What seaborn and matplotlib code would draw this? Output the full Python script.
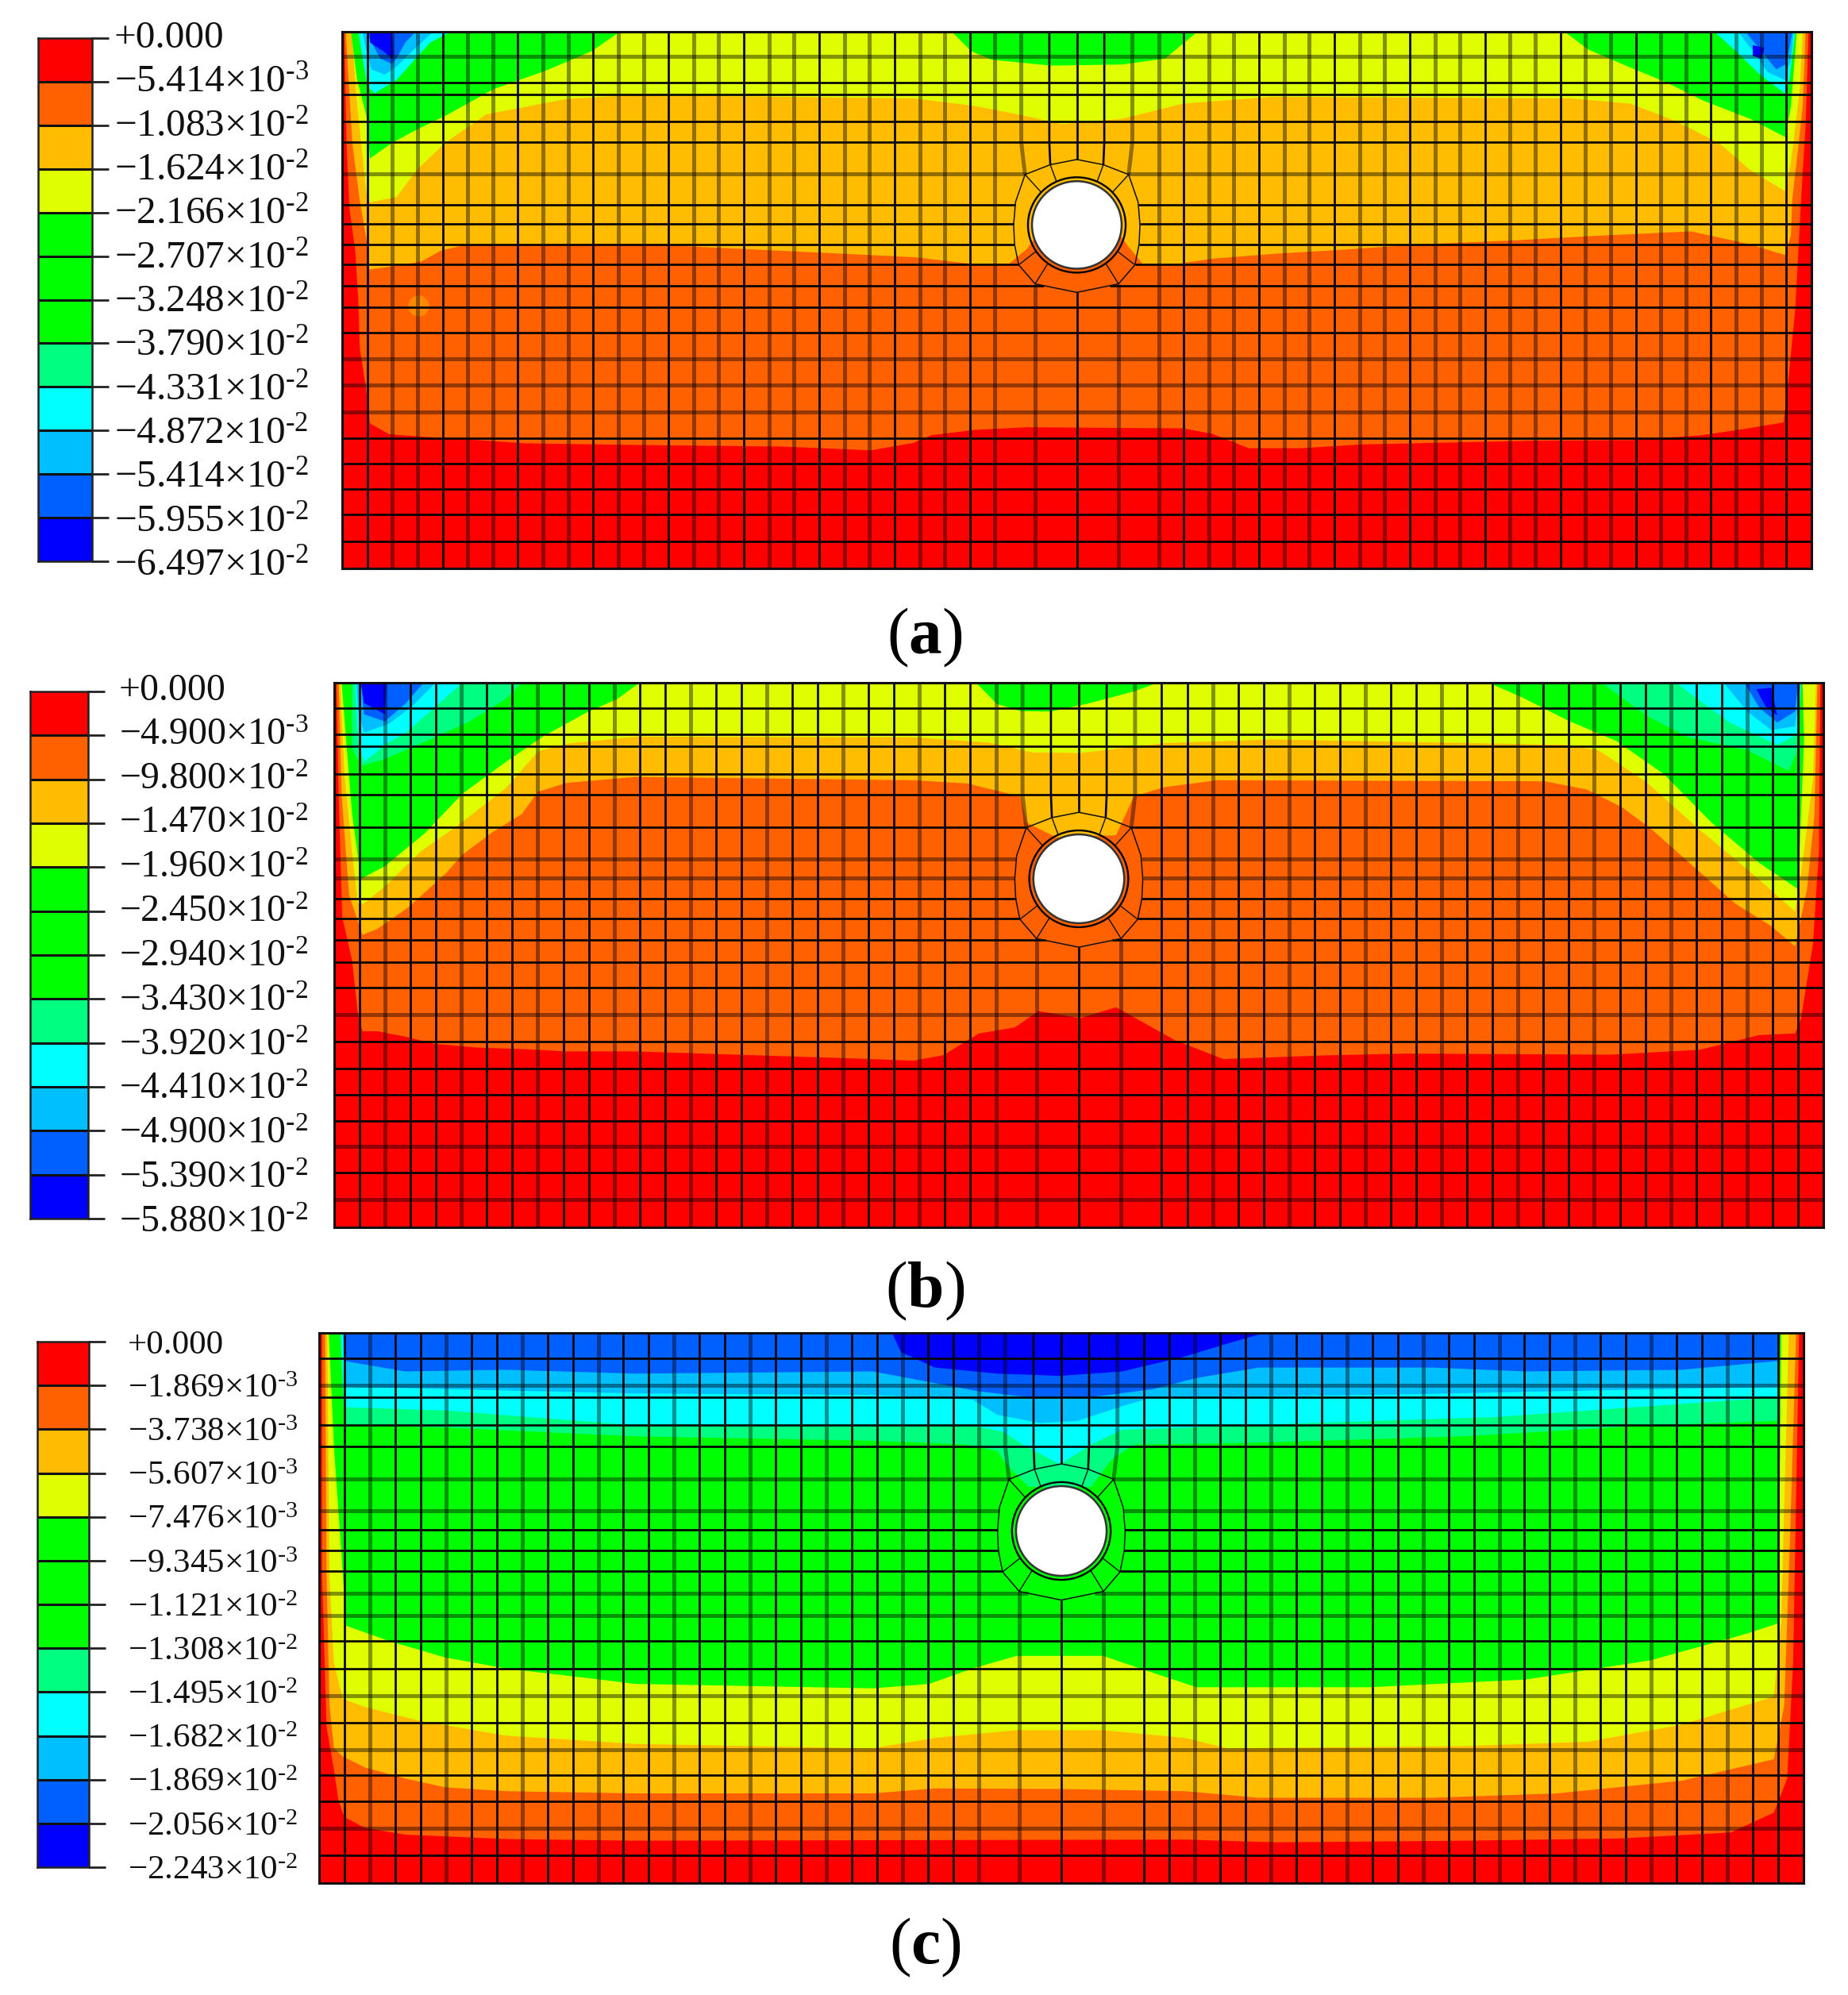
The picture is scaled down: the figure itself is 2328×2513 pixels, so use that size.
#!/usr/bin/env python3
import matplotlib

matplotlib.use("Agg")
import matplotlib.pyplot as plt
import matplotlib.transforms as mtransforms
import numpy as np
import seaborn as sns
from matplotlib.colors import ListedColormap
from matplotlib.patches import Ellipse

W, H = 2328, 2513

# contour band colours, shallow to deep
RED, ORANGE, AMBER, YELLOW = "#FF0000", "#FF6000", "#FFBC00", "#DFFF00"
GREEN, SPRING, CYAN, SKY, BLUE1, BLUE = (
    "#00FF00", "#00FF80", "#00FFFF", "#00BFFF", "#0060FF", "#0000FF",
)
band_colors = [RED, ORANGE, AMBER, YELLOW, GREEN, GREEN, GREEN, SPRING, CYAN, SKY, BLUE1, BLUE]

labels_a = ["+0.000", "-5.414|3", "-1.083|2", "-1.624|2", "-2.166|2", "-2.707|2", "-3.248|2",
            "-3.790|2", "-4.331|2", "-4.872|2", "-5.414|2", "-5.955|2", "-6.497|2"]
labels_b = ["+0.000", "-4.900|3", "-9.800|2", "-1.470|2", "-1.960|2", "-2.450|2", "-2.940|2",
            "-3.430|2", "-3.920|2", "-4.410|2", "-4.900|2", "-5.390|2", "-5.880|2"]
labels_c = ["+0.000", "-1.869|3", "-3.738|3", "-5.607|3", "-7.476|3", "-9.345|3", "-1.121|2",
            "-1.308|2", "-1.495|2", "-1.682|2", "-1.869|2", "-2.056|2", "-2.243|2"]

# mesh rows, % of block depth
mesh_d = [0, 4.6, 9.5, 11.7, 16.7, 20.6, 26.5, 32.3, 35.8, 39.6, 43.3, 47.3, 51.3,
          56, 61, 65.9, 70.8, 75.7, 80.4, 85.2, 90, 94.9, 100]

# band boundaries as (x % of width, depth % of height)
a_orange = ([0.15, 0.3, 0.5, 0.9, 1.1, 1.2, 1.6, 1.9, 3.2, 5.6, 9.8, 12.5, 20, 30, 36, 38.9, 40.1, 43, 46.6,
             57.2, 59.2, 61.7, 65.3, 69.4, 81.2, 87.7, 92.5, 95.7, 98.1, 98.3, 98.9, 99.3, 99.6, 99.8],
            [0, 21, 33, 41, 50, 59, 66, 73, 75, 75.5, 76.2, 76.7, 77, 77.3, 78, 76.6, 75.2, 74.2, 73.7,
             73.9, 74.9, 77.6, 77.6, 76.9, 76.2, 76.1, 75.2, 73.9, 72.8, 68.4, 51.5, 31, 17.5, 0])
a_amber = ([0.25, 0.7, 1.2, 1.65, 1.85, 3.7, 5.4, 6.7, 8.4, 19.9, 38.9, 43, 45.4, 46.6, 47.5, 52.7, 53.5, 54.5, 56.8,
            59.2, 63.3, 68.2, 73.5, 79.6, 84.8, 91.8, 95.8, 98.2, 98.6, 98.7, 99, 99.4, 99.6],
           [0, 21, 31.5, 38.6, 44.3, 43.6, 42.8, 40.8, 39.7, 39.5, 42, 43.3, 43.2, 40.5, 37, 37, 40, 43.3, 43.3,
            42.3, 41.4, 40.6, 39.6, 38.9, 38.1, 37.2, 39.6, 41.6, 37.9, 31, 24, 14, 0])
a_yellow = ([0.6, 0.7, 0.96, 1.65, 1.9, 3.7, 5.1, 7, 9.8, 15.3, 19.9, 38.9, 43, 46.2, 49, 53.1, 57.2, 63.3,
             83.6, 87.7, 90.9, 93.8, 95.8, 98.2, 98.6, 99.2, 99.4],
            [0, 1.4, 12, 30, 31.8, 30.8, 25.7, 20.7, 15.4, 12.5, 11.8, 12.4, 13.8, 15.5, 17.2, 16.2, 13.4, 12.1,
             12.4, 13.4, 16.8, 20.9, 25.7, 29.7, 24.3, 10.7, 0])
a_green_left = ([0.6, 18.9, 17, 13.9, 10.3, 7, 5.1, 3.4, 1.9, 1.65, 1.0],
                [0, 0, 3.6, 7.2, 10.7, 15.7, 18.2, 20.7, 23.6, 15.7, 8.6])
a_green_mid = ([41.5, 42.8, 44.2, 48.2, 53.1, 56, 58.2], [0, 3.6, 5.2, 6.3, 6.1, 5, 0])
a_green_right = ([83.2, 84.8, 87.7, 90.1, 92.6, 95.8, 98.2, 98.6, 99],
                 [0, 3.3, 6.7, 9.4, 12.8, 16.2, 19.6, 14, 0])
a_cyan_left = ([1.1, 7.4, 6, 5, 3.7, 2.2, 1.7, 1.4], [0, 0, 2, 5, 9, 11.5, 10, 5])
a_cyan_right = ([93.4, 95, 96.5, 98.2, 98.5, 98.9], [0, 4, 8, 11.5, 9, 0])
a_sky_left = ([1.4, 6.2, 5, 3.7, 2.9, 2, 1.6], [0, 0, 3, 6.5, 8, 7, 3])
a_sky_right = ([95, 96, 97, 98.2, 98.6, 98.8], [0, 3.5, 7.5, 9, 5, 0])
a_blue1_left = ([1.6, 5, 4.3, 3.7, 3.4, 2.6, 1.8], [0, 0, 2, 5, 6, 5, 1])
a_blue1_right = ([95.5, 96.7, 97.6, 98.3, 98.7], [0, 4, 7, 6, 0])
a_blue_left = ([1.9, 3.4, 3.5, 3.4, 2.8, 1.9], [0, 0, 4, 5, 3.6, 2])
a_blue_right = ([96, 96.8, 96.6, 96], [2.5, 3, 5, 4.5])

b_orange = ([0.15, 0.3, 0.54, 1.2, 1.6, 1.9, 2.9, 4.8, 6.7, 9.6, 12.9, 15.6, 20.2, 35, 38.9, 40.9, 43.3, 45.7, 47.3,
             50.1, 52.5, 56.5, 59.7, 66.9, 72.1, 85.7, 91.7, 95.7, 98.1, 98.5, 99.3, 99.7, 99.8],
            [0, 20.7, 43, 51, 61, 64, 64, 65, 66.3, 67, 67.3, 67.7, 67.7, 69, 69.4, 68.4, 64.4, 63.3, 60.3,
             61.6, 59.6, 65.7, 69.1, 68.4, 68.1, 68.3, 67.4, 64.7, 64.4, 61.6, 48, 31, 0])
b_amber = ([0.3, 0.5, 1, 1.9, 2.9, 5, 7.5, 8.6, 10.6, 12.6, 13.7, 15.6, 20.2, 38.9, 42.5, 46.1, 46.5, 48.5, 52.5,
            53.7, 55.7, 59.3, 81.3, 84.1, 86.5, 88.5, 91.3, 94.1, 96.5, 98.1, 98.9, 99.4, 99.6],
           [0, 20.7, 39, 46.3, 45.2, 41.2, 35, 31.6, 27.5, 24.1, 20, 18.4, 17.3, 17.9, 18.5, 20.9, 25.7, 28.4, 28,
            20.9, 19.2, 17.9, 18.1, 19.6, 22.9, 27, 33.8, 40.6, 44.7, 48.4, 37.9, 24.3, 0])
b_yellow = ([0.4, 0.7, 1.2, 1.6, 2, 3.4, 5.8, 8.3, 11.5, 13.7, 15.6, 20.2, 38.9, 44, 46.9, 50.1, 55.7, 62.9,
             82.5, 84.9, 88.1, 91.7, 95.3, 98.1, 98.7, 99.3, 99.5],
            [0, 17, 31, 40.5, 40.5, 37.4, 31, 26.2, 19.4, 12.6, 11.2, 9.9, 10, 11, 12.8, 12.9, 11.1, 10.4,
             11.4, 12.4, 18.2, 27, 35.2, 42, 31, 17.5, 0])
b_green_left = ([0.5, 20.5, 19, 17, 14, 11.5, 8.6, 6.1, 3.4, 1.8, 1.2, 0.8],
                [0, 0, 3, 5.4, 9.9, 14.6, 20.4, 27.6, 33.7, 36, 24, 10.5])
b_green_mid = ([43.1, 44.5, 46.1, 48.1, 50.5, 53.7, 55.3], [0, 3.9, 5.2, 5.3, 3.9, 1.6, 0])
b_green_right = ([77.5, 79.7, 82.9, 86.1, 89.3, 92.5, 95.7, 98.3, 98.5, 98.7, 98.6],
                 [0, 2.6, 7, 10.7, 16.8, 25.7, 33.1, 37.9, 24.3, 10.7, 0])
b_spring_left = ([1.2, 12.6, 11.5, 9.1, 6.4, 3.4, 1.8, 1.2], [0, 0, 3, 7.1, 10.5, 14, 15.3, 11.9])
b_spring_right = ([85.1, 88.1, 90.9, 94.9, 97.7, 98.3, 98.5], [0, 6, 10, 12.4, 16.2, 12, 0])
b_cyan_left = ([1.4, 8.6, 6.8, 4.8, 3.5, 2, 1.6], [0, 0, 4.4, 9.2, 11.2, 14.6, 10.5])
b_cyan_right = ([90.1, 91.7, 93.7, 96.9, 98.3, 98.5], [0, 3.3, 7.3, 11.4, 9.4, 0])
b_sky_left = ([1.5, 6.8, 5.2, 3.7, 2, 1.6], [0, 0, 4.4, 7.5, 9.2, 5])
b_sky_right = ([93.3, 94.9, 96.5, 98.1, 98.5], [0, 5.3, 8.7, 8, 0])
b_blue1_left = ([1.8, 6, 4.8, 3.4, 2], [0, 0, 3.8, 7.1, 5.8])
b_blue1_right = ([94.7, 95.7, 96.9, 98.1, 98.3], [0, 4.6, 7.3, 5.3, 0])
b_blue_left = ([1.8, 3.5, 3.4, 2], [0, 0, 5.8, 3.7])
b_blue_right = ([95.5, 96.5, 96.9, 96.1], [1.2, 0.9, 6, 4.3])

c_orange = ([0.2, 0.2, 0.5, 1, 1.3, 1.7, 3.1, 5.8, 12.6, 21.3, 58.3, 64.5, 77.1, 87.6, 95.1, 98, 98.9, 99.3, 99.7],
            [0, 44, 71.6, 79.4, 85, 88, 90, 91.2, 92, 92.3, 92.1, 92.6, 92.3, 91.9, 90.8, 87.2, 81, 59.9, 0])
c_amber = ([0.4, 0.5, 0.7, 1, 1.6, 3.1, 5.8, 8.5, 12.6, 21.3, 37.3, 41.5, 49.9, 58.3, 63.3, 75, 83.4, 91.8, 98,
            98.7, 99.1, 99.5],
           [0, 44, 67.7, 75.5, 77, 79, 81, 82.6, 83.3, 83.7, 83.7, 82.8, 82.9, 83.3, 84.5, 84.5, 83.7, 81.4, 77.5,
            67.7, 36.4, 0])
c_yellow = ([0.55, 0.7, 1, 1.6, 3.1, 6.6, 12.6, 21.3, 37.3, 41.5, 47, 52.8, 58.3, 61.2, 77.1, 85.5, 91.8, 98,
             98.5, 99],
            [0, 44, 60, 66.5, 68, 70.4, 73.2, 74.7, 75.5, 73.6, 72.2, 72.2, 73.6, 75.5, 75.1, 74.3, 71.2, 66.1,
             52, 0])
c_green = ([0.65, 1, 1.6, 1.8, 4.7, 8.5, 12.6, 18.9, 21.3, 37.3, 41.1, 44, 47, 52.8, 56.2, 59.1, 70.8, 81.3, 89.7,
            96, 98.3, 98.5],
           [0, 20.7, 44, 53.2, 56, 59, 61, 63, 63.8, 64.6, 63.8, 61, 58.7, 58.7, 61.8, 64.4, 64.4, 63, 59.5,
            54.8, 52.8, 0])
c_spring = ([1.4, 1.7, 8.5, 21.3, 37.3, 43.6, 45.7, 46.3, 47.8, 52, 53.4, 54.9, 62.5, 77.1, 89.7, 98.3, 98.4],
            [0, 16.8, 17.2, 18.8, 19.6, 20.3, 21.5, 23.9, 28, 28, 23, 20.3, 20, 18.8, 16.8, 16, 0])
c_cyan = ([1.5, 1.7, 8.5, 21.3, 37.3, 44, 46.1, 47.4, 49.9, 52, 54.1, 66.6, 79.2, 91.8, 98.3, 98.4],
          [0, 13.5, 14.1, 16.8, 17, 16.8, 18, 20.3, 23.9, 20.3, 17.6, 16.4, 15.3, 12.9, 11.7, 0])
c_sky = ([1.6, 1.7, 21.3, 37.3, 44, 45.7, 48.6, 51.1, 54.1, 56.2, 70.8, 83.4, 98.3, 98.4],
         [0, 9.8, 11, 11.3, 12.1, 14.9, 16.4, 16, 13.3, 11.7, 11.3, 10.6, 9.8, 0])
c_blue1 = ([1.7, 1.7, 5.8, 12.6, 21.3, 37.3, 44.4, 47.8, 52, 56.2, 59.1, 63.3, 75, 81.3, 91.8, 98.3, 98.4],
           [0, 5.1, 7, 6.7, 7.4, 7, 10.6, 11.7, 11.7, 10.2, 8.2, 6.3, 6.3, 7, 6.7, 5.1, 0])
c_blue = ([38.6, 39.2, 41.5, 45.7, 49.9, 54.1, 58.3, 61.6, 63.7],
          [0, 3.5, 6.3, 7.4, 7.8, 7, 4.3, 1.6, 0])

# soft marker on panel (a): x %, depth %
dot_x, dot_d = [5.2], [51]

layers_a = [(ORANGE, [a_orange]), (AMBER, [a_amber]), (YELLOW, [a_yellow]),
            (GREEN, [a_green_left, a_green_mid, a_green_right]),
            (CYAN, [a_cyan_left, a_cyan_right]), (SKY, [a_sky_left, a_sky_right]),
            (BLUE1, [a_blue1_left, a_blue1_right]), (BLUE, [a_blue_left, a_blue_right])]
layers_b = [(ORANGE, [b_orange]), (AMBER, [b_amber]), (YELLOW, [b_yellow]),
            (GREEN, [b_green_left, b_green_mid, b_green_right]),
            (SPRING, [b_spring_left, b_spring_right]), (CYAN, [b_cyan_left, b_cyan_right]),
            (SKY, [b_sky_left, b_sky_right]), (BLUE1, [b_blue1_left, b_blue1_right]),
            (BLUE, [b_blue_left, b_blue_right])]
layers_c = [(ORANGE, [c_orange]), (AMBER, [c_amber]), (YELLOW, [c_yellow]), (GREEN, [c_green]),
            (SPRING, [c_spring]), (CYAN, [c_cyan]), (SKY, [c_sky]), (BLUE1, [c_blue1]), (BLUE, [c_blue])]

# hole and ring around it, % units
XC, DC = 50.0, 36.0
HOLE_RX, HOLE_RY = 3.05, 8.15
RING_RX, RING_RY = 4.3, 12.2
KINK_D = 20.6
# right half of the outer ring polygon, as fractions of the ring radii
RING_DY = [-1.03, -0.9, -0.61, -0.3, 0.0, 0.35, 0.77, 0.92, 1.0]
RING_DX = [0.0, 0.66, 0.92, 0.985, 1.0, 0.97, 0.82, 0.42, 0.0]


def axes_px(fig, x0, y0, x1, y1):
    return fig.add_axes([x0 / W, 1 - y1 / H, (x1 - x0) / W, (y1 - y0) / H])


def tick_text(s):
    if "|" not in s:
        return s
    val, exp = s.split("|")
    return "\u2212" + val[1:] + "\u00d710$^{\\mathregular{\\text{-}" + exp + "}}$"


def draw_colorbar(fig, box, labels, fontsize, pad, lift):
    ax = axes_px(fig, *box)
    sns.heatmap(
        np.arange(12).reshape(-1, 1),
        cmap=ListedColormap(band_colors),
        cbar=False,
        linewidths=0,
        xticklabels=False,
        ax=ax,
    )
    ax.hlines(np.arange(1, 12), 0, 1, color="#111111", lw=2.2)
    for sp in ax.spines.values():
        sp.set_visible(True)
        sp.set_linewidth(1.8)
        sp.set_color("#222222")
    ax.yaxis.tick_right()
    ax.set_yticks(np.arange(13))
    ax.set_yticklabels([tick_text(s) for s in labels], rotation=0, fontsize=fontsize, color="#111111")
    ax.tick_params(axis="y", right=True, left=False, length=15, width=2, color="#222222", pad=pad)
    # labels sit a little above their ticks near the top of the bar
    for i, lab in enumerate(ax.get_yticklabels()):
        up = lift * (12 - i) / 12
        lab.set_transform(lab.get_transform() + mtransforms.Affine2D().translate(0, up))


def mesh_line(ax, xs, ds, blur):
    if blur:
        ax.plot(xs, ds, color="black", lw=3.6, alpha=0.42, solid_capstyle="butt", zorder=4)
    else:
        ax.plot(xs, ds, color="black", lw=1.9, solid_capstyle="butt", zorder=5)


def draw_mesh(ax, h_blur, v_rule):
    # horizontal rows stop at the ring around the hole
    dy_sorted = np.array(RING_DY)
    for i, d in enumerate(mesh_d[1:-1], start=1):
        dy = (DC - d) / RING_RY
        if -1.03 < dy < 1.0:
            gap = RING_RX * np.interp(dy, dy_sorted, RING_DX)
            mesh_line(ax, [0, XC - gap], [d, d], i in h_blur)
            mesh_line(ax, [XC + gap, 100], [d, d], i in h_blur)
        else:
            mesh_line(ax, [0, 100], [d, d], i in h_blur)

    # outer columns, 26 each side of the centre block
    left = np.linspace(0, XC - 5.57, 27)[1:]
    right = np.linspace(XC + 5.57, 100, 27)[:-1]
    for i, x in enumerate(np.concatenate([left, right])):
        mesh_line(ax, [x, x], [0, 100], v_rule(i))

    # centre columns run straight, then bend into the ring nodes
    top_d = DC - RING_RY * np.array([1.0, 0.92, 0.77])
    for off, node_off, d_end in [(0, 0, top_d[0]), (1.87, 0.42 * RING_RX, top_d[1]), (3.78, 0.82 * RING_RX, top_d[2])]:
        for sgn in (-1, 1) if off else (1,):
            mesh_line(ax, [XC + sgn * off, XC + sgn * off, XC + sgn * node_off], [0, KINK_D, d_end], off == 3.78)
    bot_d = DC + RING_RY * np.array([1.03, 0.9])
    for off, d_end in [(0, bot_d[0]), (0.66 * RING_RX, bot_d[1])]:
        for sgn in (-1, 1) if off else (1,):
            mesh_line(ax, [XC + sgn * off, XC + sgn * off], [d_end, 100], off > 0)

    # hole, ring outline, spokes
    ax.add_patch(Ellipse((XC, DC), 2 * HOLE_RX, 2 * HOLE_RY, fc="white", ec="#333333", lw=1.8, zorder=6))
    ax.add_patch(Ellipse((XC, DC), 2 * HOLE_RX * 1.09, 2 * HOLE_RY * 1.09, fc="none", ec="black", lw=1.7, zorder=6))
    rx = np.array(RING_DX) * RING_RX
    ry = np.array(RING_DY) * RING_RY
    for sgn in (-1, 1):
        ax.plot(XC + sgn * rx, DC - ry, color="#111111", lw=1.1, zorder=6)
        for ndx, ndy in zip(rx[1:-1], ry[1:-1]):
            if abs(ndy) < 0.6 * RING_RY:
                continue
            ang = np.arctan2(ndy / RING_RY, ndx / RING_RX)
            ax.plot(
                [XC + sgn * ndx, XC + sgn * 1.09 * HOLE_RX * np.cos(ang)],
                [DC - ndy, DC - 1.09 * HOLE_RY * np.sin(ang)],
                color="#111111", lw=1.0, zorder=6,
            )


def draw_block(fig, box, layers, h_blur, v_rule):
    ax = axes_px(fig, *box)
    ax.set_xlim(0, 100)
    ax.set_ylim(100, 0)
    ax.set_xticks([])
    ax.set_yticks([])
    ax.set_facecolor(RED)
    for color, regions in layers:
        for xs, ds in regions:
            ax.fill(xs, ds, color=color, lw=0, zorder=2)
    draw_mesh(ax, h_blur, v_rule)
    for sp in ax.spines.values():
        sp.set_visible(True)
        sp.set_linewidth(2.2)
        sp.set_color("#111111")
    return ax


def main():
    sns.set_theme(style="white")
    plt.rcParams["font.family"] = ["Liberation Serif", "DejaVu Serif"]
    plt.rcParams["mathtext.fontset"] = "custom"
    plt.rcParams["mathtext.rm"] = "Liberation Serif"
    plt.rcParams["mathtext.bf"] = "Liberation Serif:bold"
    plt.rcParams["mathtext.it"] = "Liberation Serif:italic"
    plt.rcParams["mathtext.default"] = "regular"

    fig = plt.figure(figsize=(W / 100, H / 100), dpi=100, facecolor="white")

    draw_colorbar(fig, (48, 48, 116, 707), labels_a, 35.5, 5, 5)
    ax_a = draw_block(fig, (431, 40, 2282, 716), layers_a, {1, 6, 14, 15, 16}, lambda i: i % 3 != 0)
    sns.scatterplot(x=dot_x, y=dot_d, s=364, color="#FF8A00", linewidth=0, ax=ax_a, zorder=3, legend=False)
    ax_a.set_xlim(0, 100)
    ax_a.set_ylim(100, 0)

    draw_colorbar(fig, (38, 871, 111, 1535), labels_b, 34.5, 13, 6)
    draw_block(fig, (421, 860, 2297, 1546), layers_b, {7, 8, 14, 19, 21}, lambda i: i % 3 == 1)

    draw_colorbar(fig, (47, 1690, 112, 2352), labels_c, 31, 20, 0)
    draw_block(fig, (402, 1679, 2272, 2372), layers_c, {2, 6, 7, 11, 12, 15, 17, 20}, lambda i: i % 3 == 1)

    for letter, y in [("a", 803), ("b", 1626), ("c", 2453)]:
        fig.text(
            1165 / W, 1 - y / H,
            "$\\mathregular{(}\\mathbf{" + letter + "}\\mathregular{)}$",
            ha="center", va="center", fontsize=60, color="black",
        )

    fig.savefig("out.png", dpi=100, facecolor="white")


if __name__ == "__main__":
    main()
